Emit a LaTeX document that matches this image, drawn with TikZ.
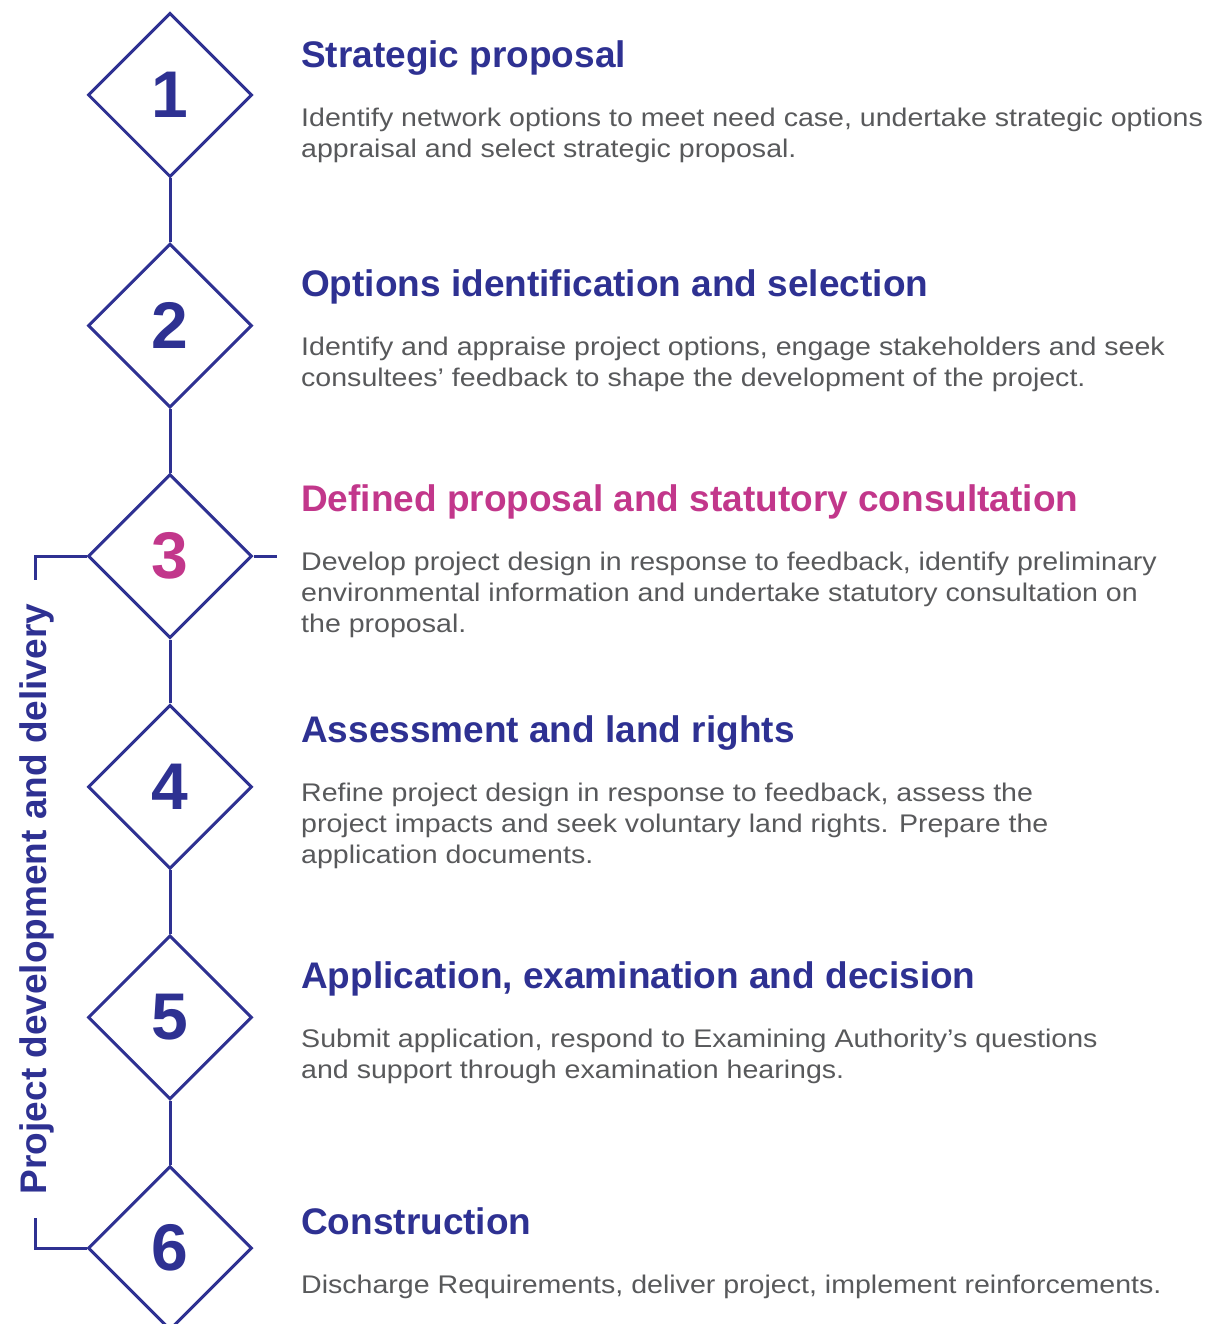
\documentclass[tikz,border=0pt]{standalone}
\usepackage{fontspec}
\setmainfont{Liberation Sans}
\newfontfamily\bodyfont[FakeStretch=1.12]{Liberation Sans}
\usepackage{tikz}
\usetikzlibrary{positioning,shapes.geometric}
\usepackage{xcolor}
\definecolor{stagenavy}{HTML}{2E3192}
\definecolor{stagepink}{HTML}{C2378B}
\definecolor{bodygray}{HTML}{58595B}

\begin{document}
\begin{tikzpicture}[x=1pt,y=-1pt,
    stage/.style={diamond, draw=stagenavy, line width=3pt, minimum width=164pt, minimum height=164pt, inner sep=0pt, font=\fontsize{66}{66}\selectfont\bfseries},
    title/.style={anchor=base west, inner sep=0pt, font=\fontsize{37}{40}\selectfont\bfseries, text=stagenavy},
    body/.style={anchor=base west, inner sep=0pt, align=left, font=\bodyfont\fontsize{25.5}{31}\selectfont, text=bodygray},
    link/.style={draw=stagenavy, line width=3pt}]
    \useasboundingbox (0,0) rectangle (1212,1324);

    % stages
    \foreach \n/\y/\c in {1/95/stagenavy, 2/325.6/stagenavy, 3/556.2/stagepink, 4/786.8/stagenavy, 5/1017.4/stagenavy, 6/1248/stagenavy}
        \node[stage, text=\c] (s\n) at (170,\y) {\n};

    % links between stages
    \foreach \a/\b in {1/2, 2/3, 3/4, 4/5, 5/6}
        \draw[link] (s\a.south) -- (s\b.north);
    \draw[link] (s6.south) -- ++(0,20);

    % stub to current stage text
    \coordinate (stub) at (277,556.2);
    \draw[link] (s3.east) -- (stub);

    % bracket
    \coordinate (brtop) at (35,580);
    \coordinate (brbot) at (35,1218);
    \draw[link] (s3.west) -| (brtop);
    \draw[link] (s6.west) -| (brbot);
    \node[rotate=90, inner sep=0pt, font=\fontsize{37}{40}\selectfont\bfseries, text=stagenavy] (phase) at (37,899) {Project development and delivery};

    % titles
    \node[title] (t1) at (301,68) {Strategic proposal};
    \node[title] (t2) at (301,296) {Options identification and selection};
    \node[title, text=stagepink] (t3) at (301,511) {Defined proposal and statutory consultation};
    \node[title] (t4) at (301,742) {Assessment and land rights};
    \node[title] (t5) at (301,988) {Application, examination and decision};
    \node[title] (t6) at (301,1234) {Construction};

    % descriptions (base = last line)
    \node[body] (d1) at (301,158) {Identify network options to meet need case, undertake strategic options\\appraisal and select strategic proposal.};
    \node[body] (d2) at (301,386) {Identify and appraise project options, engage stakeholders and seek\\consultees’ feedback to shape the development of the project.};
    \node[body] (d3) at (301,632) {Develop project design in response to feedback, identify preliminary\\environmental information and undertake statutory consultation on\\the proposal.};
    \node[body] (d4) at (301,863) {Refine project design in response to feedback, assess the\\project impacts and seek voluntary land rights. Prepare the\\application documents.};
    \node[body] (d5) at (301,1078) {Submit application, respond to Examining Authority’s questions\\and support through examination hearings.};
    \node[body] (d6) at (301,1293) {Discharge Requirements, deliver project, implement reinforcements.};
\end{tikzpicture}
\end{document}
